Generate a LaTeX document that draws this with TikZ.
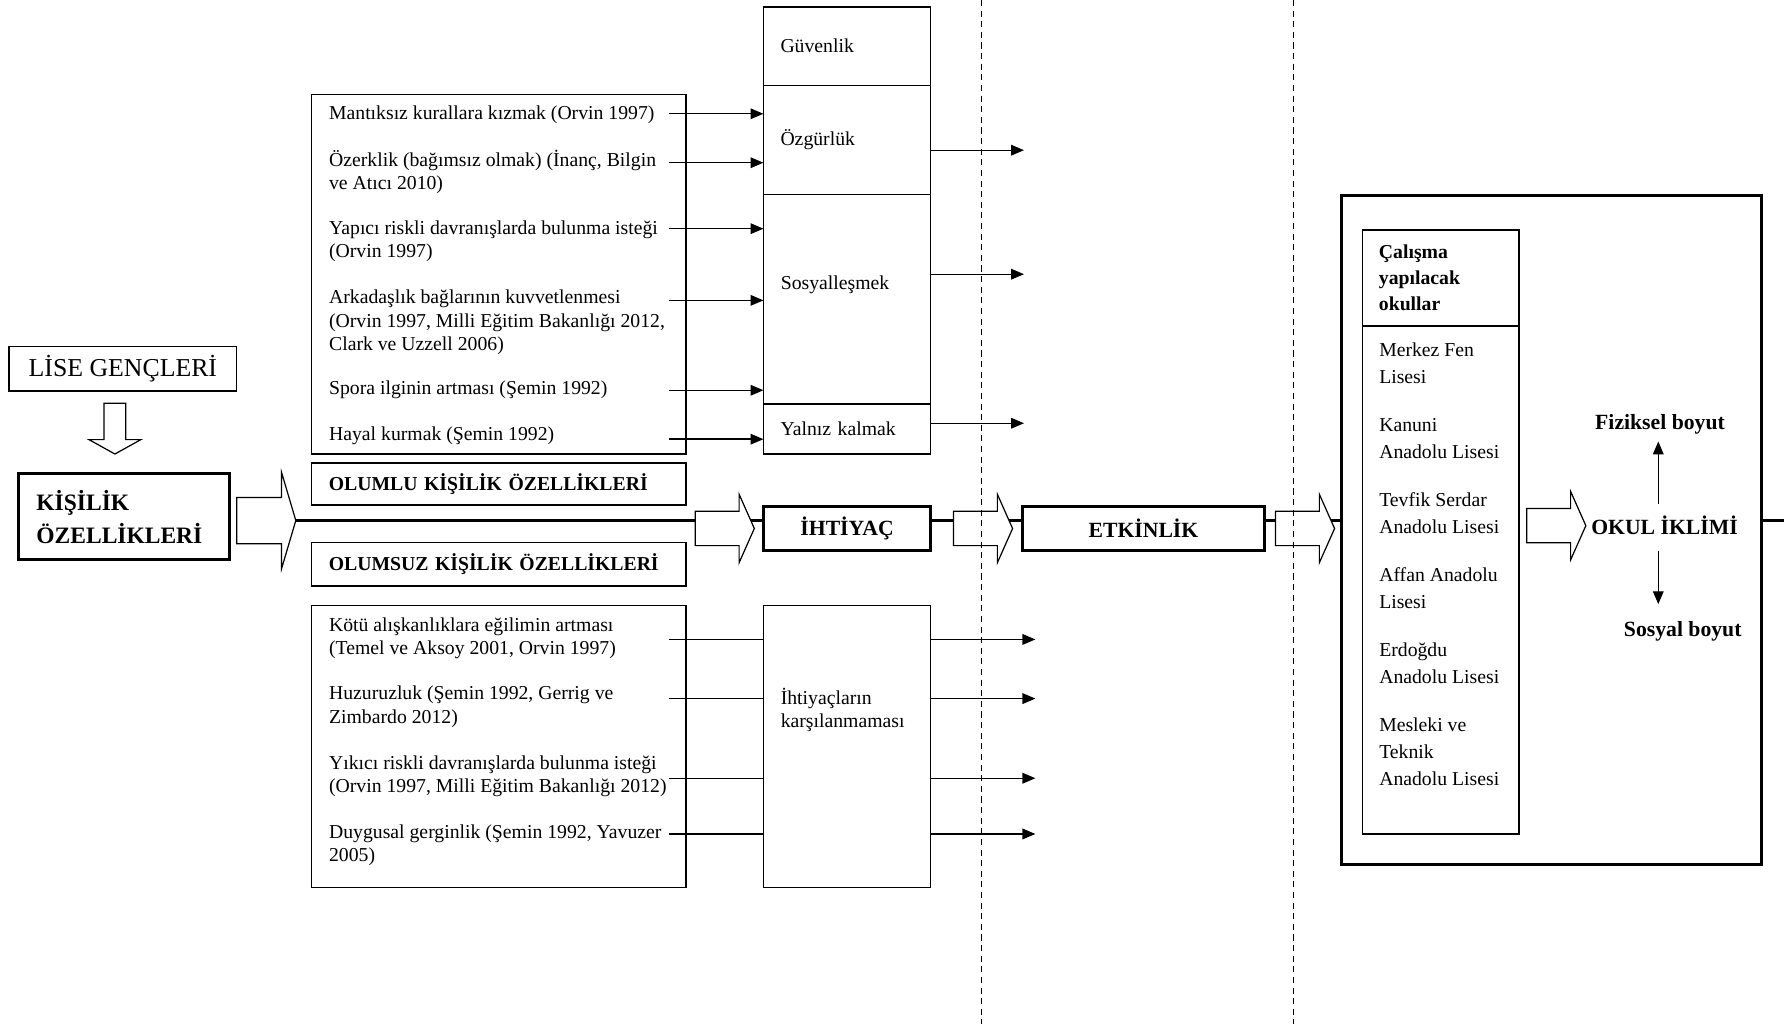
\documentclass[tikz,border=0pt]{standalone}
\usepackage{fontspec}
\setmainfont{Liberation Serif}
\usetikzlibrary{shapes.arrows, arrows.meta, positioning, calc, backgrounds}
\newcommand{\bodyfont}{\fontsize{13}{15.4}\selectfont}
\newcommand{\boldfont}{\fontsize{13}{15.4}\selectfont\bfseries}
\newcommand{\bigbold}{\fontsize{14.3}{17}\selectfont\bfseries}
\newcommand{\listfont}{\fontsize{13}{17.6}\selectfont}
\tikzset{
  thinbox/.style={draw, line width=0.9pt, fill=white, inner sep=0pt, outer sep=0pt},
  thickbox/.style={draw, line width=2pt, fill=white, inner sep=0pt, outer sep=0pt},
  wh/.style 2 args={minimum width=#1*0.75pt, minimum height=#2*0.75pt},
  needbox/.style={thinbox, inner xsep=11.25pt, text width=87.75pt, align=left, font=\bodyfont},
  itemtxt/.style={inner sep=0pt, align=left, font=\bodyfont},
  hollow/.style={single arrow, draw, fill=white, line width=0.8pt, inner xsep=0pt,
    inner ysep=10.9pt, outer sep=0pt, minimum height=39pt,
    single arrow head extend=11.25pt, single arrow tip angle=132},
  arr/.style={line width=0.9pt, -{Triangle[length=8.5pt, width=7pt]}},
  link/.style={line width=0.9pt},
  mainline/.style={line width=2pt},
  divider/.style={line width=0.8pt, dash pattern=on 4pt off 3pt}
}

\begin{document}
\begin{tikzpicture}[x=0.75pt, y=-0.75pt]

\useasboundingbox (0,0) rectangle (1568,900);

% left side
\node[thinbox, wh={200}{39}, font=\fontsize{17}{20}\selectfont] (lise) at (108,324) {LİSE GENÇLERİ};
\node[hollow, rotate=-90, anchor=tail, minimum height=33.4pt, inner ysep=6.8pt,
      single arrow head extend=9.9pt, single arrow tip angle=122] (down) at (101,354.5) {};
\node[thickbox, wh={186}{76}, inner xsep=12pt, text width=115.5pt, align=left,
      font=\fontsize{15.5}{21.75}\selectfont\bfseries] (kisilik) at (109,454) {KİŞİLİK\\ÖZELLİKLERİ};
\node[hollow, anchor=tail, minimum height=39pt, inner ysep=14.85pt,
      single arrow head extend=16.5pt, single arrow tip angle=147] (kisarrow) at (208,457.5) {};

% olumlu / olumsuz
\node[thinbox, wh={329}{316}] (pos) at (438.5,241) {};
\node[thinbox, wh={329}{37}, inner xsep=11.25pt, text width=224.25pt, align=left,
      font=\boldfont] (olumlu) at (438.5,425.5) {OLUMLU KİŞİLİK ÖZELLİKLERİ};
\node[thinbox, wh={329}{38}, inner xsep=11.25pt, text width=224.25pt, align=left,
      font=\boldfont] (olumsuz) at (438.5,496) {OLUMSUZ KİŞİLİK ÖZELLİKLERİ};
\node[thinbox, wh={329}{248}] (neg) at (438.5,656) {};

% texts sit on the baseline of their last line
\foreach \n/\y/\t in {
  p1/105/{Mantıksız kurallara kızmak (Orvin 1997)},
  p2/166.5/{Özerklik (bağımsız olmak) (İnanç, Bilgin\\ve Atıcı 2010)},
  p3/226.5/{Yapıcı riskli davranışlarda bulunma isteği\\(Orvin 1997)},
  p4/308/{Arkadaşlık bağlarının kuvvetlenmesi\\(Orvin 1997, Milli Eğitim Bakanlığı 2012,\\Clark ve Uzzell 2006)},
  p5/347/{Spora ilginin artması (Şemin 1992)},
  p6/387/{Hayal kurmak (Şemin 1992)},
  n1/575.5/{Kötü alışkanlıklara eğilimin artması\\(Temel ve Aksoy 2001, Orvin 1997)},
  n2/635.5/{Huzuruzluk (Şemin 1992, Gerrig ve\\Zimbardo 2012)},
  n3/696.5/{Yıkıcı riskli davranışlarda bulunma isteği\\(Orvin 1997, Milli Eğitim Bakanlığı 2012)},
  n4/757.5/{Duygusal gerginlik (Şemin 1992, Yavuzer\\2005)}}
  \node[itemtxt, anchor=base west] (\n) at (289,\y) {\t};

% needs
\node[needbox, minimum height=51.75pt] (guven) at (744.5,40.5) {Güvenlik};
\node[needbox, minimum height=72pt] (ozgur) at (744.5,123) {Özgürlük};
\node[thinbox, wh={147}{184}] (sosyal) at (744.5,263) {};
\node[itemtxt, anchor=west] (sosyaltxt) at (686,250) {Sosyalleşmek};
\node[needbox, minimum height=33pt] (yalniz) at (744.5,377) {Yalnız kalmak};
\node[thinbox, wh={147}{248}] (unmet) at (744.5,656) {};
\node[itemtxt, anchor=west] (unmettxt) at (686,624) {İhtiyaçların\\karşılanmaması};

% main chain
\node[thickbox, wh={147}{39}, font=\bigbold] (ihtiyac) at (744.5,464.5) {İHTİYAÇ};
\node[thickbox, wh={212}{39}, font=\bigbold] (etkinlik) at (1005,464.5) {ETKİNLİK};
\node[hollow, left=6pt of ihtiyac] (harrow1) {};
\node[hollow, left=6.75pt of etkinlik] (harrow2) {};
\node[hollow, right=7.5pt of etkinlik] (harrow3) {};

% okul iklimi
\node[thickbox, wh={369.5}{588}] (okul) at (1363.75,466) {};
\node[thinbox, wh={137.5}{84.5}, inner xsep=10.9pt, text width=81.4pt, align=left,
      font=\fontsize{13}{17.25}\selectfont\bfseries] (okulhead) at (1266.25,244.25) {Çalışma\\yapılacak\\okullar};
\node[thinbox, wh={137.5}{446.5}] (okullist) at (1266.25,509.75) {};
\node[itemtxt, font=\listfont, anchor=base west] (okulnames) at (1212,690)
  {Merkez Fen\\Lisesi\\[14.25pt]Kanuni\\Anadolu Lisesi\\[14.25pt]Tevfik Serdar\\Anadolu Lisesi\\[14.25pt]%
   Affan Anadolu\\Lisesi\\[14.25pt]Erdoğdu\\Anadolu Lisesi\\[14.25pt]Mesleki ve\\Teknik\\Anadolu Lisesi};
\node[inner sep=0pt, font=\bigbold] (iklim) at (1463,462) {OKUL İKLİMİ};
\node[hollow, left=3.4pt of iklim] (harrow4) {};
\node[inner sep=0pt, font=\bigbold] (fiz) at (1459,373) {Fiziksel boyut};
\node[inner sep=0pt, font=\bigbold] (sos) at (1479,555) {Sosyal boyut};

\coordinate (upfrom) at (1457.5,443);
\coordinate (upto) at (1457.5,388);
\coordinate (dnfrom) at (1457.5,484);
\coordinate (dnto) at (1457.5,531);
\draw[arr] (upfrom) -- (upto);
\draw[arr] (dnfrom) -- (dnto);

% arrows into the needs
\foreach \i/\y in {1/100, 2/143, 3/201, 4/264, 5/343, 6/386} {
  \coordinate (s\i) at (588,\y);
  \draw[arr] (s\i) -- (s\i -| ozgur.west);
}
\foreach \n/\y in {ozgur/132, sosyal/241, yalniz/372} {
  \coordinate (\n-out) at (900,\y);
  \draw[arr] (\n.east |- \n-out) -- (\n-out);
}
\foreach \i/\y in {1/562, 2/614, 3/684, 4/733} {
  \coordinate (m\i) at (588,\y);
  \coordinate (r\i) at (910,\y);
  \draw[link] (m\i) -- (m\i -| unmet.west);
  \draw[arr] (m\i -| unmet.east) -- (r\i);
}

% dividers
\draw[divider] (863,0) -- (863,900);
\draw[divider] (1137,0) -- (1137,900);

\coordinate (edge) at (1568,457.5);
\begin{scope}[on background layer]
  \fill[white] (0,0) rectangle (1568,900);
  \draw[mainline] (kisarrow.tip) -- (edge);
\end{scope}
\end{tikzpicture}
\end{document}
